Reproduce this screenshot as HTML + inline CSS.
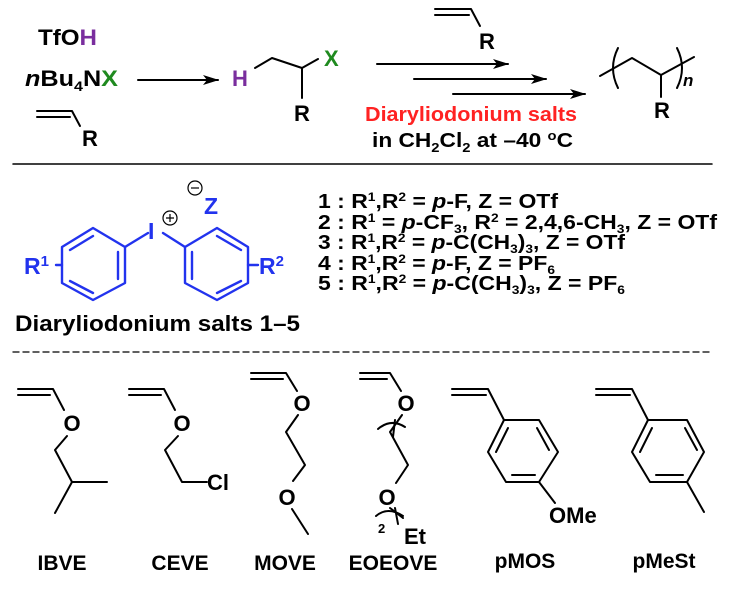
<!DOCTYPE html>
<html><head><meta charset="utf-8"><style>
html,body{margin:0;padding:0;background:#fff;}
svg{display:block;}
text{font-family:"Liberation Sans",Arial,sans-serif;font-weight:bold;}
</style></head><body>
<svg width="732" height="594" viewBox="0 0 732 594" xmlns="http://www.w3.org/2000/svg">
<defs>
<marker id="ah" markerWidth="16" markerHeight="10" refX="15" refY="5" orient="auto" markerUnits="userSpaceOnUse"><path d="M0,0 L16,5 L0,10 L4,5 Z" fill="#000"/></marker>
</defs>
<g stroke="#000" stroke-width="2" fill="none" stroke-linecap="round" stroke-linejoin="round">
<path d="M37,111 L72,111 L80,126 M37,117 L70,117"/>
<line x1="138" y1="80" x2="218" y2="80" marker-end="url(#ah)"/>
<path d="M255,68 L272,58 L302,68 L318,59 M302,68 L302,98"/>
<path d="M435,9 L471,9 L480,26 M435,15 L469,15"/>
<line x1="377" y1="64" x2="508" y2="64" marker-end="url(#ah)"/>
<line x1="414" y1="79" x2="546" y2="79" marker-end="url(#ah)"/>
<line x1="453" y1="94" x2="585" y2="94" marker-end="url(#ah)"/>
<path d="M600,76 L632,58 L661,75 L694,57 M661,75 L661,97"/>
<path d="M618,48 Q608,68 618,88 M677,48 Q687,68 677,88"/>
<line x1="13" y1="164" x2="712" y2="164" stroke-width="1.5"/>
<line x1="13" y1="352" x2="712" y2="352" stroke-width="1.3" stroke-dasharray="6,4"/>
<path d="M18,389 L53,389 L64,410 M18,395 L50,395 M67,436 L55,450 L72,482 L107,482 M72,482 L55,513"/>
<path d="M129,389 L164,389 L175,410 M129,395 L161,395 M178,436 L165,450 L182,482 L207,482"/>
<path d="M251,373 L286,373 L297,391 M251,379 L283,379 M298,415 L286,432 L305,465 L293,481 M292,509 L308,534"/>
<path d="M360,373 L390,373 L401,391 M360,379 L387,379 M402,415 L390,432 L408,465 L396,483 M390,508 L403,518"/>
<path d="M378,429 Q391,418 405,427 M395,420 L393,437"/>
<path d="M376,516 Q388,506 403,516 M395,508 L398,524"/>
<path d="M452,389 L488,389 L504,420 M452,395 L486,395"/>
<path d="M504,420 L539,420 L558,452 L539,482 L506,482 L488,452 Z"/>
<path d="M496,452 L508,428 M537,428 L549,450 M512,475 L535,475 M539,482 L555,503"/>
<path d="M596,389 L632,389 L648,420 M596,395 L630,395"/>
<path d="M648,420 L687,420 L704,452 L687,482 L650,482 L632,452 Z"/>
<path d="M640,452 L652,428 M685,428 L697,450 M656,475 L683,475 M687,482 L704,512"/>
</g>
<g stroke="#2233ee" stroke-width="2.4" fill="none" stroke-linecap="round" stroke-linejoin="round">
<path d="M93,228 L125,247 L125,283 L93,300 L62,283 L62,247 Z"/>
<path d="M70,250 L93,236 M118,252 L118,279 M70,281 L93,293"/>
<path d="M125,247 L148,233 M163,233 L185,247"/>
<path d="M217,228 L248,247 L248,283 L217,300 L185,283 L185,247 Z"/>
<path d="M217,236 L241,250 M192,252 L192,279 M217,293 L241,281"/>
<path d="M56,265 L62,265 M248,265 L258,265"/>
</g>
<g fill="none" stroke="#000" stroke-width="1.2">
<circle cx="170" cy="218" r="7"/><path d="M166,218 L174,218 M170,214 L170,222"/>
<circle cx="195" cy="188" r="7"/><path d="M191,188 L199,188"/>
</g>
<g font-size="22" fill="#000">
<text x="38" y="45" textLength="59" lengthAdjust="spacingAndGlyphs">TfO<tspan fill="#7a2e9e">H</tspan></text>
<text x="25" y="86" textLength="93" lengthAdjust="spacingAndGlyphs"><tspan font-style="italic">n</tspan>Bu<tspan font-size="14" dy="5">4</tspan><tspan dy="-5">N</tspan><tspan fill="#1f8a1f">X</tspan></text>
<text x="82" y="146">R</text>
<text x="232" y="86" fill="#7a2e9e">H</text>
<text x="324" y="66" fill="#1f8a1f">X</text>
<text x="294" y="121">R</text>
<text x="479" y="49">R</text>
<text x="365" y="121" fill="#ff2222" font-size="20" textLength="212" lengthAdjust="spacingAndGlyphs">Diaryliodonium salts</text>
<text x="372" y="147" font-size="20" textLength="201" lengthAdjust="spacingAndGlyphs">in CH<tspan font-size="13" dy="5">2</tspan><tspan dy="-5">Cl</tspan><tspan font-size="13" dy="5">2</tspan><tspan dy="-5"> at –40 </tspan><tspan font-size="13" dy="-7">o</tspan><tspan dy="7">C</tspan></text>
<text x="654" y="118">R</text>
<text x="683" y="86" font-style="italic" font-size="17">n</text>
</g>
<g font-size="23" fill="#2233ee">
<text x="148" y="239">I</text>
<text x="204" y="214">Z</text>
<text x="24" y="274">R<tspan font-size="15" dy="-8">1</tspan></text>
<text x="259" y="274">R<tspan font-size="15" dy="-8">2</tspan></text>
</g>
<text x="15" y="331" font-size="22" fill="#000" textLength="285" lengthAdjust="spacingAndGlyphs">Diaryliodonium salts 1–5</text>
<g font-size="20" fill="#000">
<text x="318" y="208" textLength="240" lengthAdjust="spacingAndGlyphs">1 : R<tspan font-size="12" dy="-7">1</tspan><tspan dy="7">,R</tspan><tspan font-size="12" dy="-7">2</tspan><tspan dy="7"> = </tspan><tspan font-style="italic">p</tspan>-F, Z = OTf</text>
<text x="318" y="229" textLength="399" lengthAdjust="spacingAndGlyphs">2 : R<tspan font-size="12" dy="-7">1</tspan><tspan dy="7"> = </tspan><tspan font-style="italic">p</tspan>-CF<tspan font-size="12" dy="4">3</tspan><tspan dy="-4">, R</tspan><tspan font-size="12" dy="-7">2</tspan><tspan dy="7"> = 2,4,6-CH</tspan><tspan font-size="12" dy="4">3</tspan><tspan dy="-4">,  Z = OTf</tspan></text>
<text x="318" y="249" textLength="307" lengthAdjust="spacingAndGlyphs">3 : R<tspan font-size="12" dy="-7">1</tspan><tspan dy="7">,R</tspan><tspan font-size="12" dy="-7">2</tspan><tspan dy="7"> = </tspan><tspan font-style="italic">p</tspan>-C(CH<tspan font-size="12" dy="4">3</tspan><tspan dy="-4">)</tspan><tspan font-size="12" dy="4">3</tspan><tspan dy="-4">, Z = OTf</tspan></text>
<text x="318" y="270" textLength="237" lengthAdjust="spacingAndGlyphs">4 : R<tspan font-size="12" dy="-7">1</tspan><tspan dy="7">,R</tspan><tspan font-size="12" dy="-7">2</tspan><tspan dy="7"> = </tspan><tspan font-style="italic">p</tspan>-F, Z = PF<tspan font-size="12" dy="4">6</tspan></text>
<text x="318" y="290" textLength="307" lengthAdjust="spacingAndGlyphs">5 : R<tspan font-size="12" dy="-7">1</tspan><tspan dy="7">,R</tspan><tspan font-size="12" dy="-7">2</tspan><tspan dy="7"> = </tspan><tspan font-style="italic">p</tspan>-C(CH<tspan font-size="12" dy="4">3</tspan><tspan dy="-4">)</tspan><tspan font-size="12" dy="4">3</tspan><tspan dy="-4">, Z = PF</tspan><tspan font-size="12" dy="4">6</tspan></text>
</g>
<g font-size="22" fill="#000" text-anchor="middle">
<text x="72" y="431">O</text>
<text x="182" y="431">O</text>
<text x="302" y="411">O</text>
<text x="287" y="505">O</text>
<text x="406" y="411">O</text>
<text x="387" y="505">O</text>
</g>
<g font-size="22" fill="#000">
<text x="207" y="490">Cl</text>
<text x="404" y="544">Et</text>
<text x="378" y="533" font-size="13">2</text>
<text x="549" y="523">OMe</text>
</g>
<g font-size="21" fill="#000" text-anchor="middle">
<text x="62" y="570">IBVE</text>
<text x="180" y="570">CEVE</text>
<text x="285" y="570">MOVE</text>
<text x="393" y="570">EOEOVE</text>
<text x="525" y="568">pMOS</text>
<text x="664" y="568">pMeSt</text>
</g>
</svg>
</body></html>
